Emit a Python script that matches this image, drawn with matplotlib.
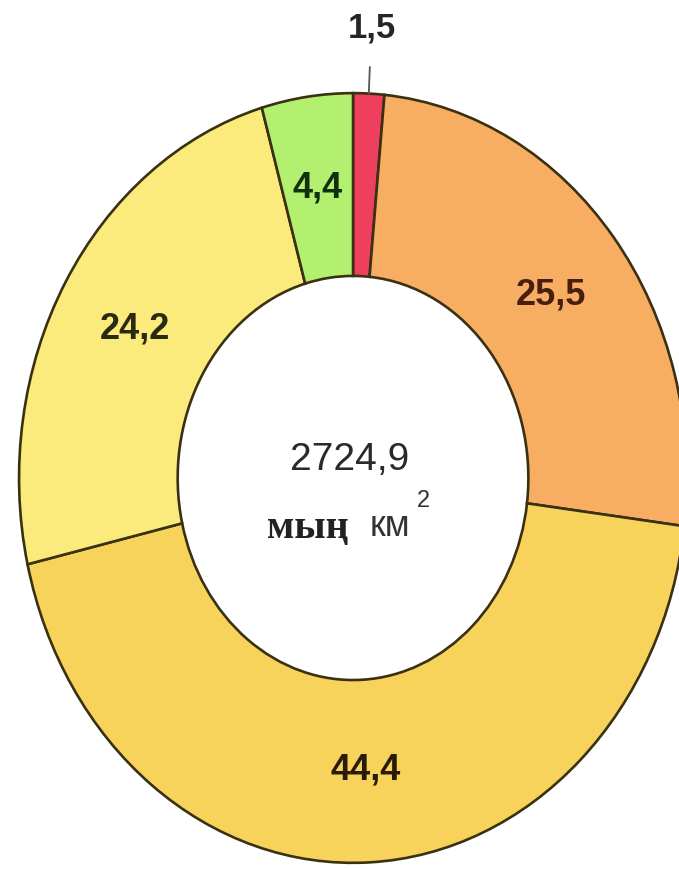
import numpy as np
import matplotlib
matplotlib.use("Agg")
import matplotlib.pyplot as plt

# доли, % (сағат тілімен, жоғарыдан бастап)
values = [1.5, 25.5, 44.4, 24.2, 4.4]
labels = ["1,5", "25,5", "44,4", "24,2", "4,4"]
colors = ["#EE3F5E", "#F7AE63", "#F8D35C", "#FAEB7C", "#B3F070"]
text_colors = ["#262626", "#4a1e0e", "#2a1a08", "#2a2a10", "#10300e"]
total_text = "2724,9"

fig = plt.figure(figsize=(6.79, 8.69), dpi=100)
ax = fig.add_axes([0, 0, 1, 1])

wedges, _ = ax.pie(
    values,
    startangle=90,
    counterclock=False,
    colors=colors,
    radius=1.0,
    wedgeprops=dict(width=0.475, edgecolor="#3a3012", linewidth=1.9),
)

# фото созылған — эллипс
ax.set_aspect("auto")
ax.set_xlim(-1.057, 0.976)
ax.set_ylim(-1.016, 1.242)
ax.axis("off")

for i, w in enumerate(wedges):
    mid = np.deg2rad((w.theta1 + w.theta2) / 2)
    if i == 0:
        # кішкентай сегмент — сыртқа жазу
        ax.annotate(
            labels[i],
            xy=(1.0 * np.cos(mid), 1.0 * np.sin(mid)),
            xytext=(1.17 * np.cos(mid), 1.17 * np.sin(mid)),
            ha="center", va="center", fontsize=25, fontweight="bold",
            color=text_colors[i], family="Liberation Sans",
            arrowprops=dict(arrowstyle="-", color="#555555", lw=1.3,
                            shrinkA=14, shrinkB=0),
        )
    else:
        r = 0.76
        ax.text(r * np.cos(mid), r * np.sin(mid), labels[i],
                ha="center", va="center", fontsize=26, fontweight="bold",
                color=text_colors[i], family="Liberation Sans")

ax.text(-0.009, 0.047, total_text, ha="center", va="center",
        fontsize=28, color="#2a2a2a", family="Liberation Sans")
ax.text(-0.135, -0.13, "мың", ha="center", va="center",
        fontsize=29, fontweight="bold", color="#222222",
        family="Liberation Serif")
ax.text(0.11, -0.125, "км", ha="center", va="center",
        fontsize=26, color="#333333", family="Liberation Sans")
ax.text(0.21, -0.06, "2", ha="center", va="center",
        fontsize=17, color="#333333", family="Liberation Sans")

fig.savefig("out.png", dpi=100, facecolor="white")
